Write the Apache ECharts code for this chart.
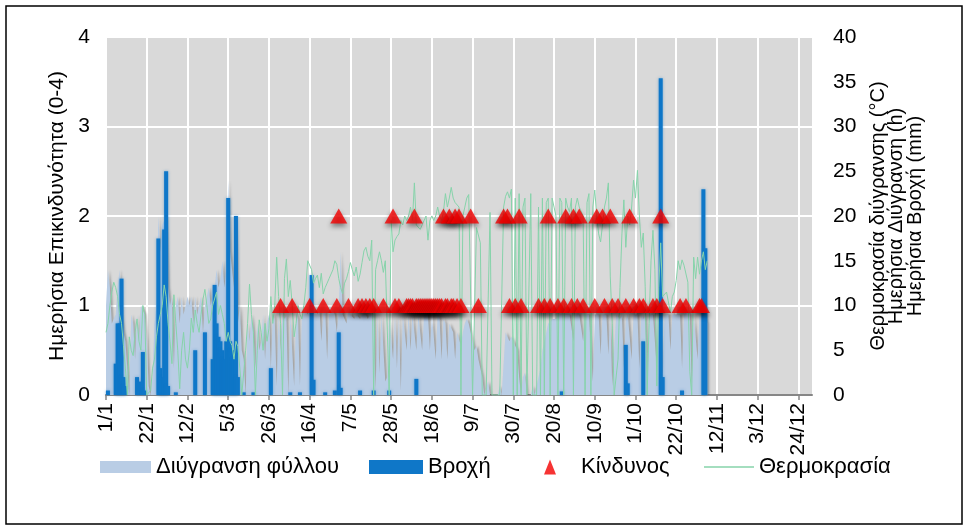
<!DOCTYPE html>
<html>
<head>
<meta charset="utf-8">
<script src="https://cdn.jsdelivr.net/npm/echarts@6/dist/echarts.min.js"></script>
<style>
  html, body { margin: 0; padding: 0; background: #fff; }
  #chart { width: 968px; height: 531px; }
</style>
</head>
<body>
<div id="chart"></div>
<script>
// x axis: one category per day, a label every 21 days
const tickLabels = ['1/1', '22/1', '12/2', '5/3', '26/3', '16/4', '7/5', '28/5', '18/6',
  '9/7', '30/7', '20/8', '10/9', '1/10', '22/10', '12/11', '3/12', '24/12'];
const dayCount = 365;

// daily leaf wetness (h), one row = 21 days
const wetnessHours = [
  10, 14, 12, 8, 8, 9, 12, 14, 9, 7, 6, 6, 0, 9, 8, 4, 9, 6, 10, 10, 9,
  6, 1, 0, 2, 8, 10, 20, 16, 19, 19, 20, 12, 10, 11, 3, 10, 11, 8, 11, 9, 10,
  11, 10, 11, 8, 11, 9, 10, 11, 7, 10, 11, 12, 10, 11, 12, 14, 12, 13, 15, 12, 14,
  24, 16, 14, 12, 20, 8, 10, 5, 4, 0, 8, 6, 9, 7, 3, 8, 5, 6, 9, 4, 8,
  9, 3, 9, 8.5, 1, 9, 5, 9, 8.5, 9, 0, 9, 9, 1, 9, 8.5, 1, 9, 9, 9.5, 9,
  10, 10, 9, 9.5, 9, 10, 6, 9, 9.5, 4, 9, 9, 9.5, 9, 7, 9.5, 16, 9, 9, 8, 9.5,
  9, 9, 8.5, 9, 9, 8.5, 9, 9, 9, 8.5, 9, 9, 9, 0.5, 9, 2.5, 9, 9, 1.5, 2, 9,
  9, 4, 9, 3, 9, 0.5, 9, 9, 5, 9, 5, 9, 9, 5, 9, 9, 5, 9, 9, 9, 5,
  9, 9, 4, 9, 8.5, 4, 8.5, 8, 4, 8, 7.5, 7, 4, 7, 7, 5.5, 7, 8, 8.5, 8, 8,
  6, 5, 5.5, 4, 3, 2, 0, 0, 1.5, 0, 0, 0, 0, 0, 1, 0, 0, 7, 7, 6, 6.5,
  6, 5.5, 5, 2, 0, 2, 2.5, 0, 0, 0, 1, 0, 0, 2, 3, 5, 6, 7, 8, 8, 8.5,
  8.5, 8.5, 9, 9, 9, 9, 9, 9, 9, 9, 6, 9, 9, 9, 9, 6, 9, 9, 9, 9, 1.5,
  9, 9, 9, 4.5, 9, 9, 9, 4.5, 9, 1, 1, 9, 9, 8.5, 9, 3, 8.5, 9, 9, 4, 9,
  9, 9, 3, 9, 8.5, 9, 2, 9, 9, 9, 9, 3, 9, 9, 1.5, 9, 9, 9, 5, 9, 9,
  9, 9, 9, 3, 9, 9, 9.5, 9, 1, 9, 9, 4, 9, 10, 10, 9, 8
];

// daily rain (mm)
const rainMm = [
  0, 0.5, 0, 0, 0, 3.5, 8, 8, 13, 2, 1, 0, 0, 0, 0, 0, 2, 1.5, 0, 4.8, 0.5,
  0, 0, 0, 0, 0, 0, 17.5, 3, 2, 18.5, 25, 1, 0, 0, 0, 0.3, 0, 0, 0, 0, 0,
  0, 0, 0, 0, 5, 0, 0, 0, 0, 7, 0, 0, 0, 4, 12.3, 8, 6.5, 6, 5, 4, 6,
  22, 6, 5, 4, 20, 2, 0, 0, 0.3, 0, 0, 0, 0, 0.3, 0, 0, 0, 0, 0, 0, 0,
  0, 3, 0, 0, 0, 0, 0, 0, 0, 0, 0, 0.3, 0, 0, 0, 0, 0.3, 0, 0, 0, 0,
  0, 13.4, 1.7, 0, 0, 0, 0, 0, 0.3, 0, 0, 0, 0, 0.5, 0, 7, 0.8, 0, 0, 0, 0,
  0, 0, 0, 0, 0, 0.5, 0, 0, 0, 0, 0, 0, 0.5, 0, 0, 0, 0, 0, 0, 0, 0.5,
  0, 0, 0, 0, 0, 0, 0, 0, 0, 0, 0, 0, 0, 1.8, 0, 0, 0, 0, 0, 0, 0,
  0, 0, 0, 0, 0, 0, 0, 0, 0, 0, 0, 0, 0, 0, 0, 0, 0, 0, 0, 0, 0,
  0, 0, 0, 0, 0, 0, 0, 0, 0, 0, 0, 0, 0, 0, 0, 0, 0, 0, 0, 0, 0,
  0, 0, 0, 0, 0, 0, 0, 0, 0, 0, 0, 0, 0, 0, 0, 0, 0, 0, 0, 0, 0,
  0, 0, 0, 0, 0.4, 0, 0, 0, 0, 0, 0, 0, 0, 0, 0, 0, 0, 0, 0, 0, 0,
  0, 0, 0, 0, 0, 0, 0, 0, 0, 0, 0, 0, 0, 0, 0, 0, 5.6, 1.3, 0, 0, 0,
  0, 0, 0, 0, 6, 0, 0, 0, 0, 0, 0, 0, 0, 35.4, 2, 0, 0, 0, 0, 0, 0,
  0, 0, 0, 0.5, 0, 0, 0, 0, 0, 0, 0, 0, 0, 0, 23, 16.4, 0
];

// daily temperature during wetness (°C)
const tempC = [
  7, 8, 10, 11.5, 12.6, 12, 11, 9, 8, 5.5, 3, 0, 6.5, 5, 4.4, 7, 8.5, 6, 5, 10, 9,
  0, 0, 0.5, 3, 4, 6.5, 8, 9, 10, 12.3, 11, 8, 6, 3.5, 11.2, 8, 5, 0.7, 5, 7, 4,
  3, 5, 8.6, 7, 9.5, 8, 7, 9, 10.7, 11.8, 10, 8, 8.5, 10, 10, 11.5, 9, 10, 9, 8, 6,
  7, 6, 5.5, 4, 6, 5.4, 3, 0, 0, 5, 8, 12.4, 9, 7, 0, 5, 8.4, 7, 5, 8, 6,
  7.4, 11, 8, 10, 15.4, 11, 8, 0, 13, 15.2, 11, 12.8, 10, 6.5, 8, 10, 9, 8.5, 10, 12, 15,
  15, 14, 12.5, 13, 13.4, 12, 13.6, 11.3, 12, 12.5, 13, 13, 14, 15, 14.6, 13, 12, 11.3, 12.5, 13, 13.8,
  14.8, 14, 13.3, 14.3, 12.7, 13.5, 14.8, 16.1, 16.5, 15.5, 15, 17.3, 0, 14, 15, 16, 15, 13.7, 15, 14.9, 0,
  19.5, 16, 17.3, 17.7, 18, 19.5, 19, 20, 19.5, 20, 21, 19.5, 23.7, 19, 19, 18.5, 19, 19.5, 20, 17.3, 19.5,
  20, 19.5, 20, 21, 20, 19.5, 20.5, 22.5, 21, 22, 23.2, 22, 21.5, 21.5, 21, 0, 20, 21, 22, 22.4, 22.3,
  0, 0, 18.7, 18.5, 17, 0, 0, 0, 0, 20.4, 0, 0, 0, 0, 0, 0, 21, 22.2, 22.7, 22, 23,
  0, 22, 0, 22.5, 0, 21, 22, 0, 0, 22.5, 0, 0, 0, 21, 0, 22, 0, 21.5, 22, 0, 22,
  21, 20, 0, 22, 21.5, 0, 22, 21, 20.5, 22, 0, 21, 22, 21, 21, 20, 0, 21.5, 22.5, 0, 21,
  22.9, 20, 18, 17.1, 19, 21, 22, 23.7, 13.2, 8, 0, 0, 4, 12, 18, 21.8, 16.5, 20, 19, 21, 24,
  22, 25.1, 20, 16.5, 18.1, 12.1, 0, 8, 15, 18.4, 14, 1, 12, 17, 11, 11, 11.5, 11.7, 9.2, 11, 11.5,
  12.8, 15, 14, 15.1, 14.5, 14.5, 12.6, 2.6, 0, 15.4, 13, 15.4, 13.5, 15, 16, 14, 15
];

// days (index from 1/1) with risk level 1 and level 2
const riskLevel1Days = [90, 96, 105, 112, 119, 125, 130, 132, 134, 136, 138, 143, 149, 151,
  155, 156, 157, 158, 160, 161, 162, 163, 164, 165, 166, 167, 168, 169, 170, 171, 172, 173,
  175, 176, 178, 179, 181, 183, 192, 208, 211, 214, 223, 226, 229, 233, 236, 240, 243, 246,
  252, 257, 261, 264, 268, 272, 275, 277, 282, 284, 287, 296, 299, 306, 307];
const riskLevel2Days = [120, 148, 159, 174, 177, 180, 182, 188, 205, 207, 213, 228, 237,
  241, 244, 253, 256, 260, 270, 286];

const days = [];
for (let i = 0; i < dayCount; i++) days.push(i);

const riskPoints = riskLevel1Days.map(d => [d, 1]).concat(riskLevel2Days.map(d => [d, 2]));

const chart = echarts.init(document.getElementById('chart'));
const font = 'Liberation Sans, Arial, sans-serif';
const legendText = { fontSize: 22, color: '#000', fontFamily: font };
const tempColor = '#86d3aa';

chart.setOption({
  backgroundColor: '#fff',
  animation: false,
  textStyle: { fontFamily: font },
  graphic: [{
    type: 'rect', silent: true, z: -1,
    shape: { x: 6, y: 6, width: 956, height: 518 },
    style: { fill: 'none', stroke: '#000', lineWidth: 1.5 }
  }],
  grid: {
    left: 106, top: 37, width: 706, height: 358,
    show: true, backgroundColor: '#d9d9d9', borderWidth: 0
  },
  legend: [
    { data: [{ name: 'Διύγρανση φύλλου', icon: 'rect' }], left: 100, top: 456, padding: 0,
      itemWidth: 51, itemHeight: 12, selectedMode: false, textStyle: legendText },
    { data: [{ name: 'Βροχή', icon: 'rect' }], left: 369, top: 456, padding: 0,
      itemWidth: 54, itemHeight: 14, selectedMode: false, textStyle: legendText },
    { data: [{ name: 'Κίνδυνος', icon: 'triangle' }], left: 544, top: 456, padding: 0,
      itemWidth: 12, itemHeight: 15, selectedMode: false,
      textStyle: Object.assign({ padding: [0, 0, 0, 20] }, legendText) },
    { data: [{ name: 'Θερμοκρασία', icon: 'rect', itemStyle: { color: tempColor } }],
      left: 704, top: 456, padding: 0,
      itemWidth: 50, itemHeight: 1.5, selectedMode: false, textStyle: legendText }
  ],
  xAxis: {
    type: 'category',
    data: days,
    boundaryGap: false,
    axisLine: { lineStyle: { color: '#868686', width: 2 } },
    axisTick: { interval: 20, length: 5, lineStyle: { color: '#868686', width: 1.5 } },
    axisLabel: {
      interval: 20, rotate: 90, fontSize: 21, color: '#000', margin: 8,
      formatter: (v, i) => tickLabels[Math.round(i / 21)]
    },
    splitLine: { show: true, interval: 20, lineStyle: { color: '#fff', width: 2 } }
  },
  yAxis: [
    {
      type: 'value', min: 0, max: 4, interval: 1,
      name: 'Ημερήσια Επικινδυνότητα (0-4)',
      nameLocation: 'middle', nameGap: 33,
      nameTextStyle: { fontSize: 21, color: '#000' },
      axisLine: { show: false }, axisTick: { show: false },
      axisLabel: { fontSize: 21, color: '#000', margin: 16 },
      splitLine: { lineStyle: { color: '#fff', width: 2 } }
    },
    {
      type: 'value', min: 0, max: 40, interval: 5, position: 'right',
      name: 'Θερμοκρασία διύγρανσης (°C)\nΗμερήσια Διύγρανση (h)\nΗμερήσια Βροχή (mm)',
      nameLocation: 'middle', nameGap: 57,
      nameTextStyle: { fontSize: 20, color: '#000', lineHeight: 18.5 },
      axisLine: { show: false }, axisTick: { show: false },
      axisLabel: { fontSize: 21, color: '#000', margin: 21 },
      splitLine: { show: false }
    }
  ],
  series: [
    {
      name: 'Διύγρανση φύλλου', type: 'line', yAxisIndex: 1, data: wetnessHours,
      symbol: 'none', z: 1,
      lineStyle: { width: 0 },
      itemStyle: { color: '#b9cde5' },
      areaStyle: {
        color: '#b9cde5', opacity: 1,
        shadowColor: 'rgba(0,0,0,0.25)', shadowBlur: 2, shadowOffsetX: 2
      }
    },
    {
      name: 'Βροχή', type: 'bar', yAxisIndex: 1, data: rainMm,
      barWidth: 4, z: 2,
      itemStyle: { color: '#0f77c8', shadowColor: 'rgba(15,119,200,0.5)', shadowBlur: 3 }
    },
    {
      name: 'Θερμοκρασία', type: 'line', yAxisIndex: 1, data: tempC,
      symbol: 'none', z: 3,
      lineStyle: { color: tempColor, width: 1 },
      itemStyle: { color: tempColor }
    },
    {
      name: 'Κίνδυνος', type: 'scatter', yAxisIndex: 0, data: riskPoints,
      symbol: 'triangle', symbolSize: [17, 15], z: 5,
      itemStyle: {
        color: '#f40000', shadowColor: 'rgba(0,0,0,0.55)', shadowBlur: 5, shadowOffsetY: 3
      }
    }
  ]
});
</script>
</body>
</html>
